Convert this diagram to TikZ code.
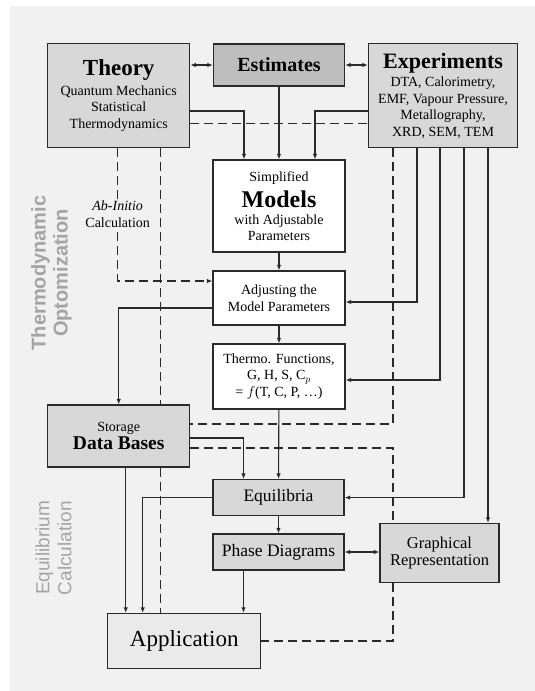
\documentclass[tikz,border=0pt]{standalone}
\usepackage{fontspec}
\setmainfont{Liberation Serif}
\setsansfont{Liberation Sans}
\usepackage{tikz}
\usetikzlibrary{arrows.meta,calc,positioning}

\definecolor{bggray}{HTML}{F1F1F1}
\definecolor{boxlight}{HTML}{D8D8D8}
\definecolor{boxdark}{HTML}{BEBEBE}
\definecolor{sidegray}{HTML}{A4A4A4}
\definecolor{linegray}{HTML}{2A2A2A}

\tikzset{
>={Latex[length=5.5pt,width=4.5pt]},
  block/.style={
    rectangle,
    draw=linegray, line width=1.3pt,
    inner sep=0pt,
    align=center,
    font=\fontsize{14}{16.5}\selectfont},
  light block/.style={block, fill=boxlight},
  dark block/.style={block, fill=boxdark},
  white block/.style={block, fill=white},
  side label/.style={
    rotate=90, align=center, text=sidegray,
    font=\sffamily\bfseries\fontsize{20}{22}\selectfont},
}

\begin{document}
\begin{tikzpicture}[
    x=1pt, y=-1pt,
    flow/.style={draw=linegray, line width=1.1pt, ->},
    both flow/.style={draw=linegray, line width=1.1pt, <->},
    dashed flow/.style={draw=linegray, line width=1.1pt, dash pattern=on 9pt off 5pt}
    ]

	% background
	\useasboundingbox (0,0) rectangle (535,691);
	\fill[white] (0,0) rectangle (535,691);
	\fill[bggray] (10,6) rectangle (535,691);

	% side labels
	\node[side label] (optlabel) at (51.5,273) {Thermodynamic\\Optomization};
	\node[side label, font=\sffamily\fontsize{19}{22}\selectfont] (eqlabel) at (53.5,548)
	  {Equilibrium\\Calculation};

	% top row
	\node[light block, minimum width=142, minimum height=104] (theory) at (118.7,95.5)
	  {{\bfseries\fontsize{23}{24}\selectfont Theory}\\[3pt]Quantum Mechanics\\Statistical\\Thermodynamics};
	\node[dark block, minimum width=131, minimum height=42] (estimates) at (279,65)
	  {\bfseries\fontsize{20}{22}\selectfont Estimates};
	\node[light block, minimum width=149, minimum height=104] (experiments) at (443,95.5)
	  {{\bfseries\fontsize{22}{24}\selectfont Experiments}\\[2pt]DTA, Calorimetry,\\EMF, Vapour Pressure,\\Metallography,\\XRD, SEM, TEM};

	% optimization column
	\node[white block, minimum width=132, minimum height=92] (models) at (279,206)
	  {Simplified\\[6pt]{\bfseries\fontsize{24}{24}\selectfont Models}\\with Adjustable\\Parameters};
	\node[white block, minimum width=132, minimum height=54] (adjusting) at (279,298)
	  {Adjusting the\\Model Parameters};
	\node[white block, minimum width=132, minimum height=65] (thermo) at (279,376.5)
	  {Thermo. Functions,\\G, H, S, C$_p$\\= $f$(T, C, P, \dots)};

	% data bases and equilibrium part
	\node[light block, minimum width=142, minimum height=62] (storage) at (118.7,436)
	  {Storage\\[2pt]{\bfseries\fontsize{19.5}{22}\selectfont Data Bases}};
	\node[light block, minimum width=131, minimum height=36] (equilibria) at (278.5,497.6)
	  {\fontsize{17.5}{20}\selectfont Equilibria};
	\node[light block, minimum width=131, minimum height=36] (phase) at (278.5,552)
	  {\fontsize{17.5}{20}\selectfont Phase Diagrams};
	\node[light block, minimum width=119, minimum height=59] (graphical) at (439.5,553)
	  {\fontsize{16.5}{20}\selectfont Graphical\\\fontsize{16.5}{20}\selectfont Representation};
	\node[block, fill=bggray!70!boxlight, minimum width=153, minimum height=55] (application) at (184.2,641)
	  {\fontsize{23}{24}\selectfont Application};

	% taps below the experiments
	\coordinate (e0) at ([xshift=-50pt]experiments.south);
	\coordinate (e1) at ([xshift=-26pt]experiments.south);
	\coordinate (e2) at ([xshift=-3pt]experiments.south);
	\coordinate (e3) at ([xshift=21pt]experiments.south);
	\coordinate (e4) at ([xshift=45pt]experiments.south);
	\coordinate (t1) at ([xshift=41.5pt]theory.south);
	\coordinate (s1) at ([xshift=7pt]storage.south);
	\coordinate (s2) at ([xshift=41.5pt]storage.south);
	\coordinate (p1) at ([xshift=-35pt]phase.south);

	% top connections
	\draw[both flow] (theory.east |- estimates.west) -- (estimates.west);
	\draw[both flow] (estimates.east) -- (estimates.east -| experiments.west);
	\draw[flow] ([yshift=-15.5pt]theory.east) -| ([xshift=-35pt]models.north);
	\draw[flow] (estimates.south) -- (models.north);
	\draw[flow] ([yshift=-15.5pt]experiments.west) -| ([xshift=36pt]models.north);
	\draw[dashed flow] ([yshift=-28pt]theory.east) -- ([yshift=-28pt]experiments.west);

	% ab initio
	\draw[dashed flow, ->] ([xshift=-1pt]theory.south) |-
	  node[pos=0.25, fill=bggray, inner sep=1pt, align=center,
	       font=\fontsize{14}{17}\selectfont] (abinitio) {{\itshape Ab-Initio}\\Calculation}
	  ([yshift=17pt]adjusting.west);
	\draw[dashed flow] (t1) -- (t1 |- storage.north);
	\draw[dashed flow] (s2) -- (s2 |- application.north);

	% optimization chain
	\draw[flow] (models) -- (adjusting);
	\draw[flow] (adjusting) -- (thermo);
	\draw[flow] ([yshift=-10pt]adjusting.west) -| (storage.north);
	\draw[flow] (thermo) -- (equilibria);

	% from the experiments
	\draw[dashed flow] (e0) |- ([yshift=12pt]storage.east);
	\draw[flow] (e1) |- ([yshift=-4pt]adjusting.east);
	\draw[flow] (e2) |- ([yshift=-3.5pt]thermo.east);
	\draw[flow] (e3) |- (equilibria.east);
	\draw[flow] (e4) -- (e4 |- graphical.north);

	% equilibrium calculation
	\draw[flow] ([yshift=-2pt]storage.east) -| ([xshift=-35pt]equilibria.north);
	\draw[dashed flow] ([yshift=-12pt]storage.east) -| (e0 |- graphical.north);
	\draw[dashed flow] (e0 |- graphical.south) |- (application.east);
	\draw[flow] (s1) -- (s1 |- application.north);
	\draw[flow] (equilibria.west) -| ([xshift=-41.5pt]application.north);
	\draw[flow] (equilibria) -- (phase);
	\draw[both flow] (phase.east) -- (phase.east -| graphical.west);
	\draw[flow] (p1) -- (p1 |- application.north);

\end{tikzpicture}
\end{document}
